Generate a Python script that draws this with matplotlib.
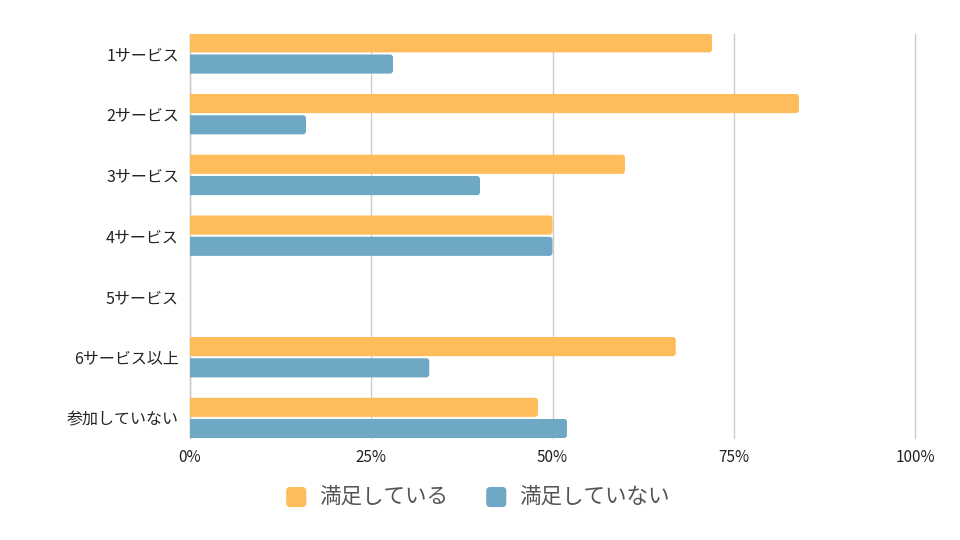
import matplotlib
matplotlib.use("Agg")
import matplotlib.pyplot as plt
from matplotlib.patches import FancyBboxPatch, Patch
from matplotlib.legend_handler import HandlerPatch

plt.rcParams['font.family'] = ['Noto Sans CJK JP', 'DejaVu Sans']

categories = ["1サービス", "2サービス", "3サービス", "4サービス", "5サービス", "6サービス以上", "参加していない"]
satisfied = [72, 84, 60, 50, 0, 67, 48]
not_satisfied = [28, 16, 40, 50, 0, 33, 52]
series_names = ["満足している", "満足していない"]
xticks = [0, 25, 50, 75, 100]
xticklabels = ["0%", "25%", "50%", "75%", "100%"]

c_orange = "#FEBD5A"
c_blue = "#6EA8C4"

fig = plt.figure(figsize=(9.6, 5.4), dpi=100)
ax = fig.add_axes([190/960, 1-438/540, 725/960, 404/540])

ypos = list(range(len(categories)))
h = 0.315
off = 0.175
b1 = ax.barh([y - off for y in ypos], satisfied, height=h, color=c_orange, zorder=3)
b2 = ax.barh([y + off for y in ypos], not_satisfied, height=h, color=c_blue, zorder=3)

# round the right ends (left end extends past the axis and is clipped)
xr = 0.42
aspect = (3.0/60.8) / xr
for bars in (b1, b2):
    for p in bars:
        x0, y0 = p.get_x(), p.get_y()
        w, hh = p.get_width(), p.get_height()
        col = p.get_facecolor()
        p.set_visible(False)
        if w <= 0:
            continue
        fb = FancyBboxPatch((x0 - 2, y0), w + 2, hh,
                            boxstyle=f"round,pad=0,rounding_size={xr}",
                            mutation_aspect=aspect, facecolor=col,
                            edgecolor='none', zorder=3)
        ax.add_patch(fb)

ax.set_xlim(0, 100)
ax.set_ylim(6.33, -0.32)
ax.set_yticks(ypos)
ax.set_yticklabels(categories, fontsize=11.5, color="#222222")
ax.set_xticks(xticks)
ax.set_xticklabels(xticklabels, fontsize=11, color="#222222")
ax.tick_params(axis='both', length=0)
ax.tick_params(axis='y', pad=8)
ax.tick_params(axis='x', pad=8)
ax.grid(axis='x', color="#cccccc", linewidth=1, zorder=0)
for gl in ax.get_xgridlines():
    gl.set_clip_on(False)
for s in ['top', 'right', 'bottom']:
    ax.spines[s].set_visible(False)
ax.spines['left'].set_color("#cccccc")
ax.spines['left'].set_linewidth(1)


class RoundHandler(HandlerPatch):
    def create_artists(self, legend, orig_handle, xdescent, ydescent,
                       width, height, fontsize, trans):
        s = min(width, height)
        p = FancyBboxPatch((-xdescent + (width - s) / 2, -ydescent + (height - s) / 2 - 1), s, s,
                           boxstyle=f"round,pad=0,rounding_size={s*0.2}",
                           facecolor=orig_handle.get_facecolor(),
                           edgecolor='none', transform=trans)
        return [p]


handles = [Patch(facecolor=c_orange), Patch(facecolor=c_blue)]
leg = fig.legend(handles, series_names, loc='center', bbox_to_anchor=(0.497, 0.08),
                 ncol=2, frameon=False, fontsize=15.5, handlelength=1.06, handleheight=1.06,
                 handletextpad=0.52, columnspacing=1.72,
                 handler_map={Patch: RoundHandler()})
for t in leg.get_texts():
    t.set_color("#555555")

fig.savefig("out.png", dpi=100)
